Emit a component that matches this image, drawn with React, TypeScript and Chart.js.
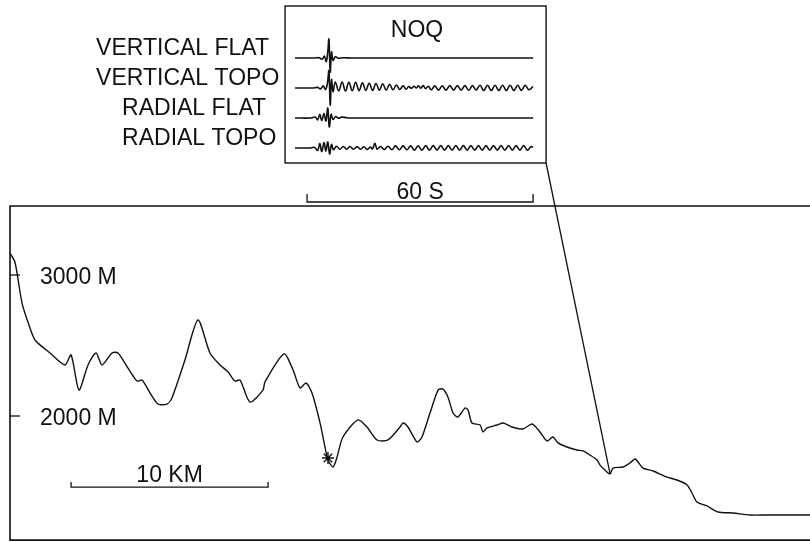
import { useEffect, useRef } from "react";
import { Chart, registerables } from "chart.js";

Chart.register(...registerables);

// Topographic profile: distance along the section (km) and elevation (m)
const profileKm = [
  0, 0.25, 0.61, 0.91, 1.27, 2.03, 2.79, 3.1, 3.5, 3.96, 4.37, 4.67, 5.18, 5.48, 5.99,
  6.45, 6.7, 7.11, 7.51, 7.97, 8.22, 8.88, 9.54, 10.15, 10.66, 11.07, 11.42, 11.68, 12.18,
  12.84, 12.94, 13.91, 14.37, 14.72, 15.03, 15.33, 15.74, 15.99, 16.14, 16.4, 16.6, 16.9,
  17.66, 18.12, 18.63, 19.19, 19.8, 19.95, 20.2, 20.66, 20.91, 21.32, 21.73, 21.98, 22.23,
  22.49, 22.74, 23.1, 23.25, 23.45, 23.86, 24.01, 24.21, 24.72, 25.03, 25.48, 26.04, 26.5,
  26.9, 27.26, 27.56, 27.82, 28.27, 28.78, 29.09, 29.44, 29.8, 29.95, 30.2, 30.46, 30.61,
  31.12, 31.47, 31.73, 31.88, 32.13, 32.64, 33.35, 33.86, 34.37, 34.62, 34.87, 35.38, 35.94,
  36.7, 37.56, 38.43, 40.61,
];
const profileElev = [
  3156, 3092, 2801, 2667, 2539, 2447, 2362, 2433, 2184, 2362, 2447, 2362, 2447, 2447, 2340,
  2248, 2255, 2163, 2085, 2085, 2128, 2397, 2681, 2447, 2362, 2312, 2248, 2255, 2099,
  2184, 2241, 2440, 2326, 2199, 2234, 2163, 1950, 1780, 1688, 1638, 1709, 1851,
  1972, 1922, 1830, 1830, 1922, 1950, 1922, 1816, 1851, 2021, 2184, 2191, 2135,
  2021, 1993, 2057, 2043, 1950, 1936, 1887, 1915, 1936, 1950, 1922, 1908, 1943,
  1887, 1823, 1851, 1809, 1780, 1759, 1752, 1723, 1688, 1652, 1617, 1589, 1631,
  1638, 1667, 1695, 1674, 1631, 1610, 1567, 1546, 1511, 1454, 1390, 1362, 1319,
  1312, 1298, 1298, 1298,
];

// Source (asterisk) and station NOQ on the profile
const sourceKm = 16.14;
const sourceElev = 1702;
const stationKm = 30.46;
const stationElev = 1589;
const stationName = "NOQ";

// Elevation ticks on the left edge
const elevTicks = [3000, 2000];
const elevTickLabels = ["3000 M", "2000 M"];

// Distance scale bar (km)
const kmBarStart = 3.1;
const kmBarLength = 10;
const kmBarElev = 1496;
const kmBarLabel = "10 KM";

// Frame of the profile panel
const frameLeftKm = 0;
const frameRightKm = 42;
const frameTopElev = 3489;
const frameBottomElev = 1120;

// Synthetic seismograms: [time (s), amplitude] pairs, one trace per row
const traceLabels = ["VERTICAL FLAT", "VERTICAL TOPO", "RADIAL FLAT", "RADIAL TOPO"];

const verticalFlat: [number, number][] = [
  [-3.2, 0], [2.0, 0], [3.2, 0.01], [4.0, -0.04], [4.6, 0.06], [5.1, -0.12], [5.5, 0.2],
  [5.8, 0.63], [6.15, -0.47], [6.5, 0.2], [6.9, -0.08], [7.5, 0.04], [8.3, -0.01],
  [9.5, 0.01], [12, 0], [60, 0],
];

const verticalTopo: [number, number][] = [
  [-3.2, 0], [1.5, 0], [2.8, 0.02], [3.6, -0.03], [4.3, 0.07], [4.9, -0.05], [5.4, 0.15],
  [5.8, 0.57], [6.15, -0.57], [6.5, 0.28], [6.9, -0.12], [7.5, 0.2], [8.4, -0.1], [9.3, 0.2],
  [10.2, -0.1], [11.1, 0.19], [12.0, -0.09], [12.9, 0.19], [13.8, -0.09], [14.7, 0.17],
  [15.6, -0.08], [16.5, 0.16], [17.4, -0.08], [18.3, 0.15], [19.2, -0.07], [20.1, 0.14],
  [21.0, -0.07], [21.9, 0.12], [22.8, -0.06], [23.7, 0.1], [24.6, -0.05], [25.5, 0.07],
  [26.3, -0.04], [27.0, 0.05], [27.7, -0.01], [28.4, 0.06], [29.0, 0.0], [29.6, 0.07],
  [30.2, -0.01], [30.8, 0.08], [31.5, -0.02], [32.2, 0.06], [33.0, -0.06], [33.9, 0.07],
  [34.9, -0.07], [35.9, 0.07], [36.9, -0.07], [37.9, 0.08], [38.9, -0.07], [39.9, 0.08],
  [40.9, -0.07], [41.9, 0.08], [42.9, -0.08], [43.9, 0.08], [44.9, -0.07], [45.9, 0.09],
  [46.9, -0.08], [47.9, 0.09], [48.9, -0.08], [49.9, 0.09], [50.9, -0.08], [51.9, 0.09],
  [52.9, -0.08], [53.9, 0.09], [54.9, -0.08], [55.9, 0.09], [56.9, -0.08], [57.9, 0.09],
  [58.9, -0.06], [60.0, 0.05],
];

const radialFlat: [number, number][] = [
  [-3.2, 0], [1.0, 0], [2.2, 0.03], [2.8, -0.06], [3.4, 0.12], [3.9, -0.08], [4.5, 0.15],
  [5.0, -0.1], [5.5, 0.33], [5.9, -0.3], [6.4, 0.12], [6.9, -0.05], [7.6, 0.05],
  [8.3, -0.01], [9.2, 0.03], [10.5, 0.01], [12, 0], [60, 0],
];

const radialTopo: [number, number][] = [
  [-3.2, 0], [1.0, 0], [2.0, 0.02], [2.8, -0.08], [3.4, 0.15], [3.9, -0.12], [4.5, 0.18],
  [5.0, -0.1], [5.5, 0.2], [6.0, -0.2], [6.5, 0.12], [7.0, -0.06], [7.8, 0.06], [8.7, -0.04],
  [9.6, 0.05], [10.5, -0.04], [11.4, 0.05], [12.3, -0.04], [13.3, 0.04], [14.2, -0.04],
  [15.1, 0.04], [16.0, -0.05], [16.8, 0.03], [17.4, -0.03], [18.0, 0.16], [18.6, -0.04],
  [19.5, 0.05], [20.5, -0.05], [21.5, 0.06], [22.5, -0.06], [23.5, 0.07], [24.5, -0.06],
  [25.5, 0.07], [26.5, -0.06], [27.5, 0.07], [28.5, -0.07], [29.5, 0.07], [30.5, -0.07],
  [31.5, 0.08], [32.5, -0.07], [33.5, 0.08], [34.5, -0.07], [35.5, 0.08], [36.5, -0.07],
  [37.5, 0.08], [38.5, -0.07], [39.5, 0.08], [40.5, -0.07], [41.5, 0.08], [42.5, -0.07],
  [43.5, 0.08], [44.5, -0.07], [45.5, 0.08], [46.5, -0.07], [47.5, 0.08], [48.5, -0.07],
  [49.5, 0.08], [50.5, -0.07], [51.5, 0.08], [52.5, -0.07], [53.5, 0.08], [54.5, -0.07],
  [55.5, 0.08], [56.5, -0.07], [57.5, 0.08], [58.5, -0.07], [59.5, 0.05], [60, 0.02],
];

const traces = [verticalFlat, verticalTopo, radialFlat, radialTopo];

// Time scale bar (s) and inset frame in trace units
const timeBarStart = 0;
const timeBarLength = 60;
const timeBarLabel = "60 S";
const insetLeftT = -5.84;
const insetRightT = 63.45;
const insetTopV = 1.733;
const insetBottomV = -3.5;
const timeBarV = -4.8;
const labelLeftT = [-56.0, -56.0, -49.1, -49.1];

const INK = "#111111";
const FONT = '23px "Liberation Sans", Arial, Helvetica, sans-serif';

const figurePlugin = {
  id: "figureDecor",
  afterDatasetsDraw(chart: any) {
    const { ctx } = chart;
    const sx = chart.scales.x;
    const sy = chart.scales.y;
    const tx = chart.scales.x2;
    const ty = chart.scales.y2;
    const X = (v: number) => sx.getPixelForValue(v);
    const Y = (v: number) => sy.getPixelForValue(v);
    const T = (v: number) => tx.getPixelForValue(v);
    const V = (v: number) => ty.getPixelForValue(v);

    ctx.save();
    ctx.strokeStyle = INK;
    ctx.fillStyle = INK;
    ctx.lineCap = "butt";

    // profile frame (open on the right)
    ctx.lineWidth = 1.6;
    ctx.beginPath();
    ctx.moveTo(X(frameRightKm), Y(frameTopElev));
    ctx.lineTo(X(frameLeftKm), Y(frameTopElev));
    ctx.lineTo(X(frameLeftKm), Y(frameBottomElev));
    ctx.lineTo(X(frameRightKm), Y(frameBottomElev));
    ctx.stroke();

    // elevation ticks and labels
    ctx.font = FONT;
    ctx.textBaseline = "alphabetic";
    ctx.textAlign = "left";
    elevTicks.forEach((e, i) => {
      const y = Y(e);
      ctx.lineWidth = 1.3;
      ctx.beginPath();
      ctx.moveTo(X(frameLeftKm), y);
      ctx.lineTo(X(frameLeftKm) + 10, y);
      ctx.stroke();
      ctx.fillText(elevTickLabels[i], X(frameLeftKm) + 30, y + 8.5);
    });

    // distance scale bar
    const kx0 = X(kmBarStart);
    const kx1 = X(kmBarStart + kmBarLength);
    const ky = Y(kmBarElev);
    ctx.lineWidth = 1.3;
    ctx.beginPath();
    ctx.moveTo(kx0, ky - 5);
    ctx.lineTo(kx0, ky);
    ctx.lineTo(kx1, ky);
    ctx.lineTo(kx1, ky - 5);
    ctx.stroke();
    ctx.textAlign = "center";
    ctx.fillText(kmBarLabel, (kx0 + kx1) / 2, ky - 5);

    // inset frame
    ctx.lineWidth = 1.4;
    ctx.strokeRect(T(insetLeftT), V(insetTopV), T(insetRightT) - T(insetLeftT), V(insetBottomV) - V(insetTopV));

    // station name
    ctx.textAlign = "center";
    ctx.fillText(stationName, T(29.2), V(insetTopV) + 31);

    // trace labels
    ctx.textAlign = "left";
    traceLabels.forEach((lab, k) => {
      ctx.fillText(lab, T(labelLeftT[k]), V(-k) - 3);
    });

    // time scale bar
    const tx0 = T(timeBarStart);
    const tx1 = T(timeBarStart + timeBarLength);
    const tyb = V(timeBarV);
    ctx.lineWidth = 1.3;
    ctx.beginPath();
    ctx.moveTo(tx0, tyb - 8);
    ctx.lineTo(tx0, tyb);
    ctx.lineTo(tx1, tyb);
    ctx.lineTo(tx1, tyb - 8);
    ctx.stroke();
    ctx.textAlign = "center";
    ctx.fillText(timeBarLabel, (tx0 + tx1) / 2, tyb - 3);

    // line from the inset to the station
    ctx.lineWidth = 1.3;
    ctx.beginPath();
    ctx.moveTo(T(insetRightT), V(insetBottomV));
    ctx.lineTo(X(stationKm), Y(stationElev));
    ctx.stroke();

    ctx.restore();
  },
};

export default function App() {
  const ref = useRef<HTMLCanvasElement>(null);

  useEffect(() => {
    if (!ref.current) return;
    const traceSets = traces.map((tr, k) => ({
      label: traceLabels[k],
      data: tr.map(([t, a]) => ({ x: t, y: a - k })),
      xAxisID: "x2",
      yAxisID: "y2",
      borderColor: INK,
      borderWidth: 1.6,
      pointRadius: 0,
      tension: 0.4,
      fill: false,
    }));

    const chart = new Chart(ref.current, {
      type: "line",
      data: {
        datasets: [
          {
            label: "profile",
            data: profileKm.map((km, i) => ({ x: km, y: profileElev[i] })),
            xAxisID: "x",
            yAxisID: "y",
            borderColor: INK,
            borderWidth: 1.4,
            pointRadius: 0,
            tension: 0.25,
            fill: false,
          },
          {
            label: "source",
            data: [{ x: sourceKm, y: sourceElev }],
            xAxisID: "x",
            yAxisID: "y",
            showLine: false,
            pointStyle: "star",
            pointRadius: 6,
            borderColor: INK,
            backgroundColor: INK,
            pointBorderWidth: 1.4,
          },
          ...traceSets,
        ] as any,
      },
      options: {
        animation: false,
        responsive: false,
        maintainAspectRatio: false,
        events: [],
        layout: { padding: 0, autoPadding: false },
        plugins: {
          legend: { display: false },
          tooltip: { enabled: false },
        },
        scales: {
          x: { type: "linear", display: false, min: -0.508, max: 40.609 },
          y: { type: "linear", display: false, min: 1106.4, max: 4950.4 },
          x2: { type: "linear", display: false, min: -81.5, max: 133.5 },
          y2: { type: "linear", display: false, min: -16.133, max: 1.933 },
        },
      },
      plugins: [figurePlugin],
    });
    return () => chart.destroy();
  }, []);

  return (
    <div style={{ position: "absolute", left: 0, top: 0, width: 810, height: 542, background: "#ffffff" }}>
      <canvas ref={ref} width={810} height={542} style={{ display: "block" }} />
    </div>
  );
}
